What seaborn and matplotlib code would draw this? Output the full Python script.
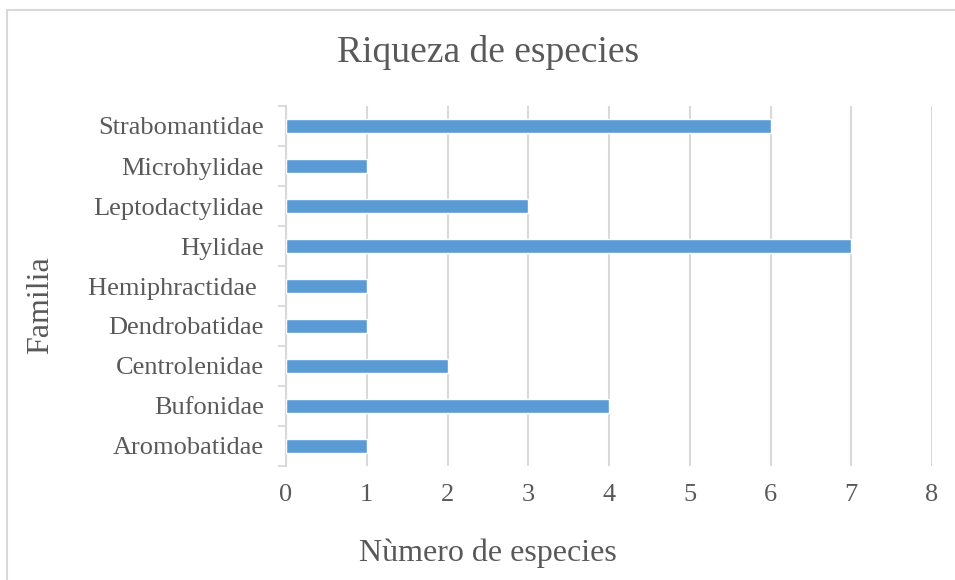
import matplotlib
matplotlib.use("Agg")
import matplotlib.pyplot as plt
from matplotlib.patches import Rectangle
from matplotlib.ticker import FixedLocator
import seaborn as sns
import pandas as pd

familias = ["Strabomantidae", "Microhylidae", "Leptodactylidae", "Hylidae",
            "Hemiphractidae ", "Dendrobatidae", "Centrolenidae", "Bufonidae",
            "Aromobatidae"]
especies = [6, 1, 3, 7, 1, 1, 2, 4, 1]
x_ticks = [0, 1, 2, 3, 4, 5, 6, 7, 8]

df = pd.DataFrame({"Familia": familias, "Especies": especies})

sns.set_theme(style="white")
plt.rcParams["font.family"] = ["Liberation Serif", "DejaVu Serif"]

text_color = "#595959"
grid_color = "#D9D9D9"
bar_color = "#5B9BD5"

W, H = 955, 580
fig = plt.figure(figsize=(W / 100, H / 100), dpi=100)
ax = fig.add_axes([286 / W, 1 - 466 / H, (932 - 286) / W, (466 - 106) / H])

sns.barplot(data=df, x="Especies", y="Familia", orient="h", color=bar_color,
            width=0.33, saturation=1, ax=ax, zorder=3)

ax.set_xlim(0, 8)
ax.set_ylim(len(familias) - 0.5, -0.5)
ax.set_xticks(x_ticks)
ax.set_xticklabels([str(t) for t in x_ticks], fontsize=19, color=text_color)
ax.xaxis.grid(True, color=grid_color, linewidth=1.5, zorder=0)
ax.tick_params(axis="x", length=0, pad=13)

ax.tick_params(axis="y", which="major", length=0, pad=16, labelsize=19,
               labelcolor=text_color)
# category boundary tick marks on the left spine
ax.yaxis.set_minor_locator(FixedLocator([i - 0.5 for i in range(len(familias) + 1)]))
ax.tick_params(axis="y", which="minor", left=True, length=6, width=1.3,
               color=grid_color)

for side in ["top", "right", "bottom"]:
    ax.spines[side].set_visible(False)
ax.spines["left"].set_color(grid_color)
ax.spines["left"].set_linewidth(1.5)

ax.set_xlabel("Nùmero de especies", fontsize=23, color=text_color)
ax.xaxis.label.set_va("center")
ax.xaxis.set_label_coords(488 / W, 1 - 553 / H, transform=fig.transFigure)

ax.set_ylabel("Familia", fontsize=23, color=text_color)
ax.yaxis.label.set_va("center")
ax.yaxis.set_label_coords(41 / W, 1 - 305 / H, transform=fig.transFigure)

fig.text(488 / W, 1 - 53 / H, "Riqueza de especies", fontsize=27,
         color=text_color, ha="center", va="center")

fig.patches.append(Rectangle((7 / W, -0.05), 1.2, 1 - 10 / H + 0.05,
                             transform=fig.transFigure, fill=False,
                             edgecolor=grid_color, linewidth=1.5))

fig.savefig("out.png", dpi=100)
